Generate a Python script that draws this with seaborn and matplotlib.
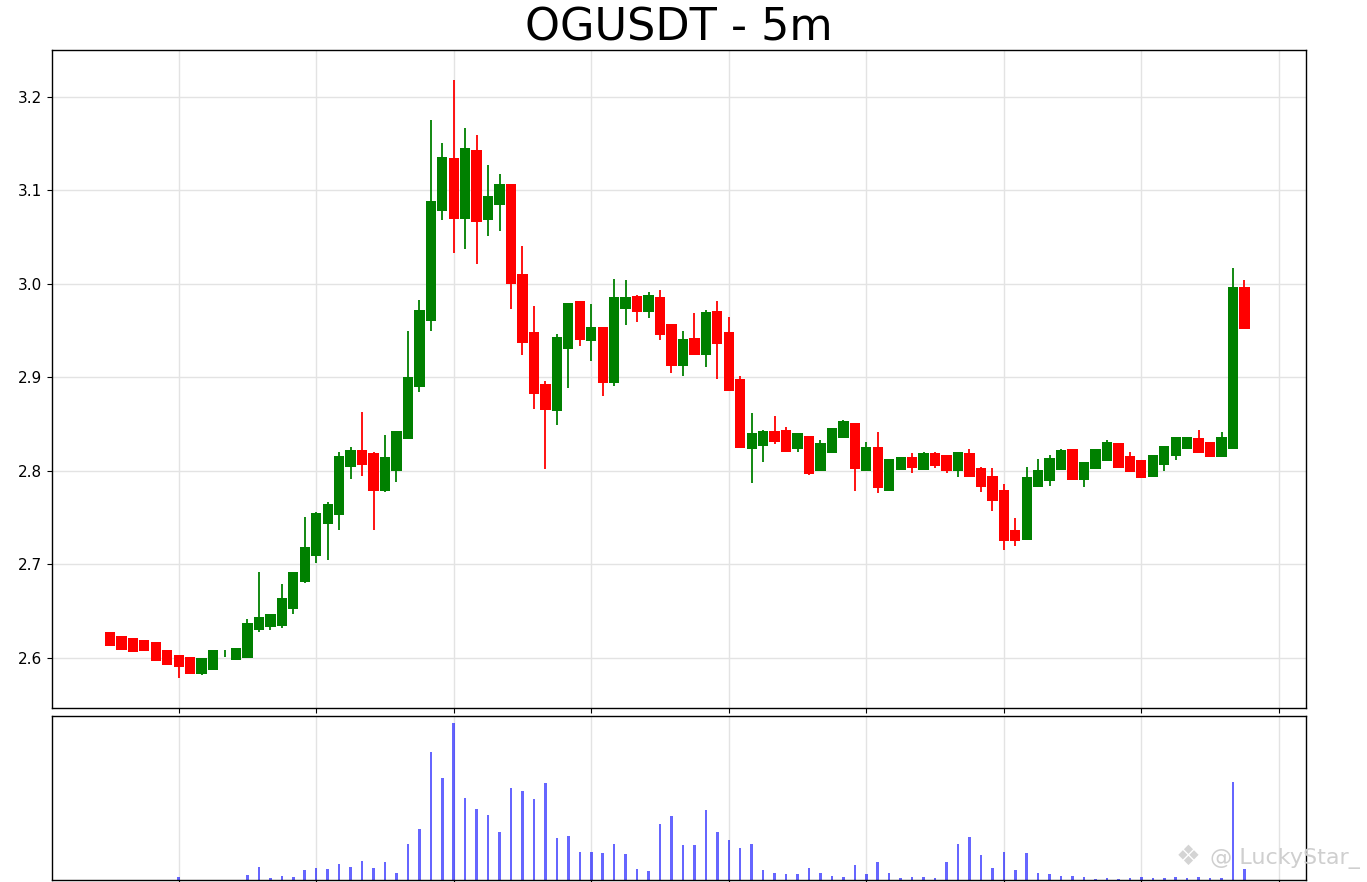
import numpy as np
import pandas as pd
import matplotlib
matplotlib.use("Agg")
import matplotlib.pyplot as plt
import seaborn as sns

# 5m candles, values
opens = [2.627, 2.6235, 2.621, 2.619, 2.617, 2.6075, 2.6025, 2.601, 2.5826, 2.587,
         2.6045, 2.5975, 2.599, 2.629, 2.6328, 2.6334, 2.652, 2.681, 2.7088, 2.7423,
         2.7527, 2.8042, 2.8221, 2.8185, 2.7786, 2.8, 2.8335, 2.889, 2.9598, 3.0775,
         3.1345, 3.069, 3.1431, 3.0676, 3.0845, 3.1068, 3.0107, 2.9484, 2.8922, 2.864,
         2.9297, 2.9815, 2.9387, 2.953, 2.8939, 2.9729, 2.9868, 2.9697, 2.9857, 2.9566,
         2.9117, 2.9413, 2.9232, 2.9704, 2.9477, 2.8978, 2.8231, 2.8267, 2.8427, 2.8434,
         2.8231, 2.8373, 2.7991, 2.8192, 2.8352, 2.8505, 2.8, 2.8249, 2.7783, 2.8007,
         2.8149, 2.8007, 2.8185, 2.8164, 2.7991, 2.8185, 2.8025, 2.7943, 2.7794, 2.7367,
         2.7252, 2.7822, 2.789, 2.8007, 2.8228, 2.79, 2.8017, 2.8106, 2.8299, 2.8157,
         2.8114, 2.7935, 2.806, 2.8157, 2.8231, 2.8345, 2.8303, 2.8149, 2.8228, 2.9964]
highs = [2.627, 2.6235, 2.621, 2.619, 2.617, 2.6075, 2.6025, 2.601, 2.599, 2.6085,
         2.608, 2.6104, 2.641, 2.6915, 2.6467, 2.679, 2.6915, 2.7508, 2.756, 2.766,
         2.8196, 2.8256, 2.8626, 2.82, 2.838, 2.8427, 2.9494, 2.9822, 3.1751, 3.15,
         3.2178, 3.1665, 3.1587, 3.1266, 3.1167, 3.1068, 3.0398, 2.9758, 2.896, 2.9459,
         2.9793, 2.9815, 2.9776, 2.953, 3.0053, 3.0043, 2.9878, 2.991, 2.9936, 2.9566,
         2.9488, 2.9686, 2.9715, 2.9815, 2.9637, 2.901, 2.8619, 2.8434, 2.8583, 2.8469,
         2.8399, 2.8373, 2.8327, 2.8452, 2.854, 2.8505, 2.8303, 2.841, 2.8121, 2.8149,
         2.8185, 2.8203, 2.8203, 2.8164, 2.8196, 2.8228, 2.8043, 2.8032, 2.7854, 2.7487,
         2.8036, 2.8121, 2.8164, 2.8235, 2.8228, 2.8096, 2.8231, 2.8327, 2.8299, 2.8202,
         2.8114, 2.8167, 2.8267, 2.8363, 2.8363, 2.8434, 2.8303, 2.8416, 3.0171, 3.0035]
lows = [2.612, 2.6075, 2.606, 2.607, 2.596, 2.592, 2.578, 2.5826, 2.581, 2.587,
        2.6005, 2.5975, 2.599, 2.627, 2.629, 2.632, 2.6466, 2.68, 2.701, 2.7039,
        2.7366, 2.791, 2.7943, 2.7359, 2.777, 2.788, 2.8335, 2.8843, 2.949, 3.0683,
        3.0327, 3.0374, 3.0214, 3.0505, 3.0562, 2.9733, 2.9232, 2.8661, 2.8014, 2.8487,
        2.8886, 2.933, 2.9174, 2.88, 2.8904, 2.9552, 2.959, 2.9627, 2.9395, 2.9046,
        2.9011, 2.9232, 2.911, 2.8975, 2.885, 2.8238, 2.7871, 2.8089, 2.8281, 2.8202,
        2.8202, 2.7954, 2.7991, 2.8192, 2.8352, 2.7786, 2.8, 2.7758, 2.7783, 2.8007,
        2.7972, 2.8007, 2.803, 2.7978, 2.7935, 2.7935, 2.7765, 2.7562, 2.7153, 2.7188,
        2.7252, 2.7822, 2.7836, 2.8007, 2.79, 2.7829, 2.8017, 2.8106, 2.8032, 2.7989,
        2.7918, 2.7935, 2.8, 2.8114, 2.8231, 2.8185, 2.8149, 2.8149, 2.8228, 2.951]
closes = [2.612, 2.6075, 2.606, 2.607, 2.596, 2.592, 2.5896, 2.5826, 2.599, 2.6085,
          2.6048, 2.6104, 2.637, 2.6435, 2.6467, 2.6637, 2.6915, 2.7178, 2.7545, 2.7644,
          2.8157, 2.8221, 2.8064, 2.7786, 2.8143, 2.8427, 2.8997, 2.9715, 3.0882, 3.1352,
          3.069, 3.1452, 3.0655, 3.0939, 3.1068, 3.0, 2.936, 2.8818, 2.8647, 2.9424,
          2.9793, 2.9395, 2.953, 2.8933, 2.9857, 2.9857, 2.9697, 2.9875, 2.9448, 2.9117,
          2.9406, 2.9232, 2.9697, 2.9349, 2.885, 2.8238, 2.8405, 2.8427, 2.8309, 2.8202,
          2.8399, 2.7964, 2.8292, 2.8452, 2.8533, 2.8018, 2.8249, 2.7812, 2.8121, 2.8149,
          2.8025, 2.8185, 2.805, 2.8, 2.8196, 2.7935, 2.7829, 2.7669, 2.7242, 2.7242,
          2.7936, 2.8007, 2.8138, 2.8221, 2.79, 2.8096, 2.8231, 2.8309, 2.8032, 2.7989,
          2.7918, 2.8167, 2.8267, 2.8363, 2.8363, 2.8185, 2.8149, 2.8363, 2.9964, 2.951]
volumes = [0, 0, 0, 0, 0, 0, 1.9, 0, 0, 0,
           0, 0, 3.0, 8.1, 1.3, 2.3, 1.9, 6.4, 7.7, 6.8,
           10.0, 8.3, 12.3, 7.7, 11.3, 4.7, 23.2, 32.5, 81.7, 65.1,
           100, 52.5, 45.3, 41.7, 30.8, 58.7, 56.8, 51.9, 61.9, 26.8,
           28.1, 17.9, 17.9, 17.2, 23.2, 16.8, 6.8, 5.5, 35.9, 41.0,
           22.1, 22.1, 44.7, 30.8, 25.5, 20.4, 23.0, 6.2, 4.7, 3.8,
           3.6, 7.9, 4.3, 2.8, 2.1, 9.6, 3.6, 11.3, 4.7, 1.3,
           1.9, 1.9, 1.1, 11.5, 23.0, 27.4, 16.0, 7.7, 17.6, 6.2,
           17.2, 4.3, 3.8, 2.3, 2.3, 2.1, 0.8, 1.3, 0.6, 1.1,
           1.9, 1.1, 1.1, 1.9, 1.3, 1.9, 1.1, 1.3, 62.5, 7.0]

df = pd.DataFrame({"open": opens, "high": highs, "low": lows,
                   "close": closes, "volume": volumes})
df["idx"] = np.arange(len(df))
df["color"] = np.where(df["close"] >= df["open"], "green", "red")

sns.set_style("ticks")
plt.rcParams.update({"axes.edgecolor": "black", "xtick.color": "black",
                     "ytick.color": "black", "text.color": "black",
                     "axes.labelcolor": "black", "axes.linewidth": 1.0})

fig = plt.figure(figsize=(13.67, 8.82), dpi=100)
ax = fig.add_axes([0.038, 0.1973, 0.9173, 0.746])
ax2 = fig.add_axes([0.038, 0.0023, 0.9173, 0.1859])

# candles: wicks then bodies
ax.vlines(df["idx"], df["low"], df["high"], colors=df["color"], linewidth=1.3, zorder=2)
ax.bar(df["idx"], (df["close"] - df["open"]).abs(),
       bottom=np.minimum(df["open"], df["close"]),
       width=0.9, color=df["color"], linewidth=0, zorder=3)

# volume
sns.barplot(data=df, x="idx", y="volume", native_scale=True, color="blue",
            alpha=0.6, width=0.22, saturation=1, linewidth=0, errorbar=None, ax=ax2)

xticks = np.arange(6, 103, 12)
for a in (ax, ax2):
    a.set_xlim(-5.06, 104.36)
    a.set_xticks(xticks)
    a.tick_params(axis="x", labelbottom=False)
    a.set_xlabel("")
    a.set_ylabel("")
    a.grid(True, color="#e3e3e3", linewidth=1)
    a.set_axisbelow(True)
    for s in a.spines.values():
        s.set_visible(True)

ax.tick_params(axis="y", labelsize=11)
ax2.set_yticks([])
ax2.grid(axis="y", visible=False)
ax2.set_ylim(0, max(volumes) * 1.047)

ax.set_title("OGUSDT - 5m", fontsize=32, pad=7, color="black")

# watermark
fig.text(1176 / 1367, 1 - 865 / 882, "\u2756", fontsize=20,
         color="#d4d4d4", va="baseline", ha="left")
fig.text(1210 / 1367, 1 - 864 / 882, "@ LuckyStar_", fontsize=16,
         color="#cfcfcf", va="baseline", ha="left")

fig.savefig("out.png", dpi=100)
